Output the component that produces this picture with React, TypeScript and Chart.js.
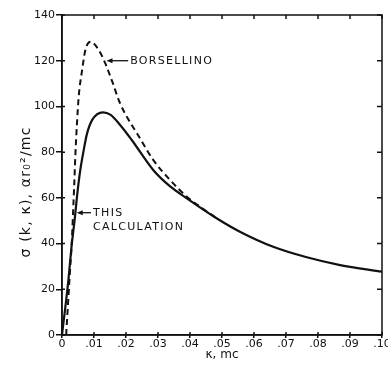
import React, { useEffect, useRef } from 'react';
import { Chart, registerables } from 'chart.js';

Chart.register(...registerables);

// "This calculation" (solid)
const calcK = [0, 0.002, 0.003, 0.004, 0.0048, 0.0057, 0.0068, 0.0078, 0.0094, 0.0128, 0.0152, 0.0181, 0.0218, 0.0285, 0.0338, 0.039, 0.0483, 0.0556, 0.066, 0.0765, 0.0869, 0.1];
const calcSigma = [0, 24, 39, 51, 62, 72, 81, 88, 94, 97.4, 96.3, 92, 85.3, 72.2, 65, 59.8, 51.1, 45.2, 38.6, 34, 30.6, 27.7];

// Borsellino (dashed)
const borsK = [0.0013, 0.0025, 0.003, 0.0035, 0.0038, 0.0042, 0.0047, 0.0052, 0.0063, 0.0073, 0.0089, 0.0115, 0.0135, 0.0158, 0.0181, 0.0244, 0.0285, 0.0338, 0.039, 0.0425, 0.0483];
const borsSigma = [0, 28, 39, 55, 65, 79.5, 93, 104, 116, 124.7, 128.3, 124.7, 118.9, 110.5, 101.5, 86, 76.6, 67.8, 60.5, 56.8, 51.1];

// Axis ranges / ticks
const xMin = 0;
const xMax = 0.1;
const xStep = 0.01;
const yMin = 0;
const yMax = 140;
const yStep = 20;

// Annotations
const noteLines = [['BORSELLINO'], ['THIS', 'CALCULATION']];
const noteTipK = [0.0139, 0.0046];
const noteTipSigma = [120, 53.5];
const noteTextK = [0.0213, 0.0097];

const xTitle = 'κ, mc';
const yTitle = 'σ (k, κ), αr₀²/mc';

const INK = '#111';

const framePlugin = {
  id: 'frameAndNotes',
  afterDatasetsDraw(chart: any) {
    const { ctx, chartArea: a, scales } = chart;
    const x = scales.x;
    const y = scales.y;
    ctx.save();
    ctx.strokeStyle = INK;
    ctx.lineWidth = 1.5;
    ctx.strokeRect(a.left, a.top, a.right - a.left, a.bottom - a.top);
    ctx.beginPath();
    x.ticks.forEach((t: any) => {
      const px = x.getPixelForValue(t.value);
      ctx.moveTo(px, a.bottom);
      ctx.lineTo(px, a.bottom - 3);
      ctx.moveTo(px, a.top);
      ctx.lineTo(px, a.top + 4);
    });
    y.ticks.forEach((t: any) => {
      const py = y.getPixelForValue(t.value);
      ctx.moveTo(a.left, py);
      ctx.lineTo(a.left + 3, py);
      ctx.moveTo(a.right, py);
      ctx.lineTo(a.right - 5, py);
    });
    ctx.stroke();

    // annotations
    ctx.fillStyle = INK;
    ctx.font = '11px "DejaVu Sans"';
    (ctx as any).letterSpacing = '1.3px';
    ctx.textBaseline = 'middle';
    ctx.textAlign = 'left';
    noteLines.forEach((lines, i) => {
      const tx = x.getPixelForValue(noteTipK[i]);
      const ty = y.getPixelForValue(noteTipSigma[i]);
      const textX = x.getPixelForValue(noteTextK[i]);
      ctx.lineWidth = 1.3;
      ctx.beginPath();
      ctx.moveTo(tx + 4, ty);
      ctx.lineTo(textX - 2, ty);
      ctx.stroke();
      ctx.beginPath();
      ctx.moveTo(tx, ty);
      ctx.lineTo(tx + 6, ty - 2.5);
      ctx.lineTo(tx + 6, ty + 2.5);
      ctx.closePath();
      ctx.fill();
      lines.forEach((ln, j) => {
        ctx.fillText(ln, textX, ty + j * 14);
      });
    });

    // y title
    ctx.save();
    ctx.font = '14px "DejaVu Sans"';
    (ctx as any).letterSpacing = '1.2px';
    ctx.textAlign = 'center';
    ctx.textBaseline = 'middle';
    ctx.translate(26, (a.top + a.bottom) / 2 + 17);
    ctx.rotate(-Math.PI / 2);
    ctx.fillText(yTitle, 0, 0);
    ctx.restore();

    ctx.restore();
  },
};

export default function App() {
  const ref = useRef<HTMLCanvasElement | null>(null);
  useEffect(() => {
    if (!ref.current) return;
    const chart = new Chart(ref.current, {
      type: 'scatter',
      data: {
        datasets: [
          {
            label: 'Borsellino',
            data: borsK.map((k, i) => ({ x: k, y: borsSigma[i] })),
            showLine: true,
            borderColor: INK,
            borderWidth: 2,
            borderDash: [6, 4],
            pointRadius: 0,
            cubicInterpolationMode: 'monotone',
            fill: false,
          },
          {
            label: 'This calculation',
            data: calcK.map((k, i) => ({ x: k, y: calcSigma[i] })),
            showLine: true,
            borderColor: INK,
            borderWidth: 2.2,
            pointRadius: 0,
            cubicInterpolationMode: 'monotone',
            fill: false,
          },
        ],
      },
      options: {
        animation: false,
        responsive: true,
        maintainAspectRatio: false,
        layout: { padding: { top: 15, right: 6, left: 0, bottom: 0 } },
        plugins: {
          legend: { display: false },
          tooltip: { enabled: false },
        },
        scales: {
          x: {
            type: 'linear',
            min: xMin,
            max: xMax,
            ticks: {
              stepSize: xStep,
              color: INK,
              padding: 0,
              maxRotation: 0,
              autoSkip: false,
              font: { family: 'DejaVu Sans', size: 11 },
              callback: (v: any) => {
                const n = Number(v);
                if (Math.abs(n) < 1e-9) return '0';
                return n.toFixed(2).replace(/^0/, '');
              },
            },
            grid: {
              drawOnChartArea: false,
              drawTicks: true,
              tickLength: 3,
              color: INK,
              lineWidth: 1.5,
            },
            border: { display: true, color: INK, width: 1.5 },
            title: {
              display: true,
              text: xTitle,
              color: INK,
              font: { family: 'DejaVu Sans', size: 12 },
              padding: { top: 0, bottom: 9 },
            },
            afterFit: (s: any) => {
              s.height = 36;
              s.paddingLeft = 0;
              s.paddingRight = 0;
            },
          },
          y: {
            type: 'linear',
            min: yMin,
            max: yMax,
            ticks: {
              stepSize: yStep,
              color: INK,
              padding: 1,
              font: { family: 'DejaVu Sans', size: 11 },
            },
            grid: {
              drawOnChartArea: false,
              drawTicks: true,
              tickLength: 6,
              color: INK,
              lineWidth: 1.5,
            },
            border: { display: true, color: INK, width: 1.5 },
            afterFit: (s: any) => {
              s.width = 62;
            },
          },
        },
      },
      plugins: [framePlugin],
    } as any);
    return () => chart.destroy();
  }, []);
  return (
    <div style={{ position: 'absolute', left: 0, top: 0, width: 388, height: 371, background: '#fff' }}>
      <canvas ref={ref} />
    </div>
  );
}
